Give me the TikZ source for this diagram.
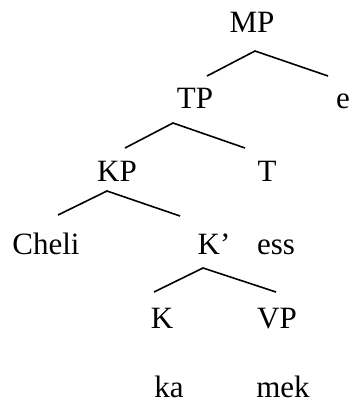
\documentclass[tikz,border=0pt]{standalone}
\usepackage{fontspec}
\setmainfont{Liberation Serif}
\begin{document}
\begin{tikzpicture}[x=1pt,y=-1pt,
  lab/.style={anchor=base,inner sep=0pt,font=\fontsize{31}{34}\selectfont},
  br/.style={line width=1.6pt}]
\useasboundingbox (0,0) rectangle (352,404);
\node[lab] (MP) at (252,33) {MP};
\node[lab] (TP) at (195,108) {TP};
\node[lab] (e) at (343,108) {e};
\node[lab] (KP) at (117,181) {KP};
\node[lab] (T) at (267,181) {T};
\node[lab] (Cheli) at (46,254) {Cheli};
\node[lab] (Kb) at (214,254) {K’};
\node[lab] (ess) at (276,254) {ess};
\node[lab] (K) at (162,328) {K};
\node[lab] (VP) at (277,328) {VP};
\node[lab,text depth=0pt] (ka) at (169,397) {ka};
\node[lab,text depth=0pt] (mek) at (283,397) {mek};
\coordinate (a1) at (255,51);
\coordinate (l1) at (207,76);
\coordinate (r1) at (328,76);
\coordinate (a2) at (173,123);
\coordinate (l2) at (125,148);
\coordinate (r2) at (245,148);
\coordinate (a3) at (107,191);
\coordinate (l3) at (58,215);
\coordinate (r3) at (180,216);
\coordinate (a4) at (203,268);
\coordinate (l4) at (154,292);
\coordinate (r4) at (276,292);
\draw[br] (l1) -- (a1) -- (r1);
\draw[br] (l2) -- (a2) -- (r2);
\draw[br] (l3) -- (a3) -- (r3);
\draw[br] (l4) -- (a4) -- (r4);
\end{tikzpicture}
\end{document}
